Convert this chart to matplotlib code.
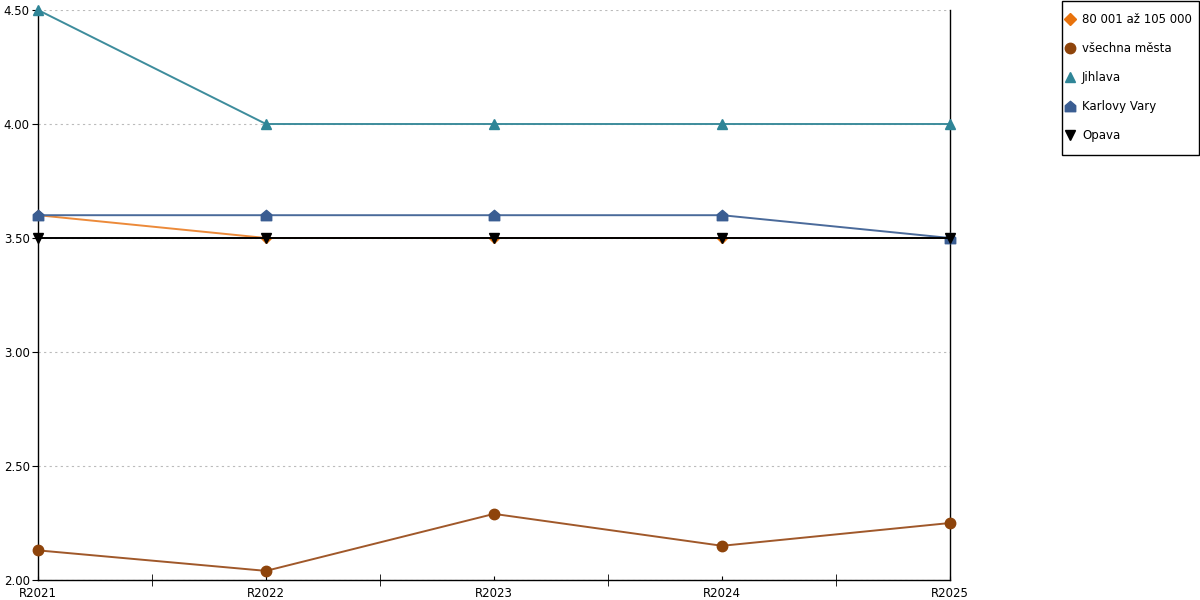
import matplotlib
matplotlib.use("Agg")
import matplotlib.pyplot as plt
from matplotlib.path import Path
from matplotlib.patches import Rectangle
from matplotlib.ticker import FixedLocator
import numpy as np

categories = ["R2021", "R2022", "R2023", "R2024", "R2025"]
series_names = ["80 001 až 105 000", "všechna města", "Jihlava", "Karlovy Vary", "Opava"]
vals_80001 = [3.60, 3.50, 3.50, 3.50, 3.50]
vals_all = [2.13, 2.04, 2.29, 2.15, 2.25]
vals_jihlava = [4.50, 4.00, 4.00, 4.00, 4.00]
vals_kv = [3.60, 3.60, 3.60, 3.60, 3.50]
vals_opava = [3.50, 3.50, 3.50, 3.50, 3.50]
yticks = [2.00, 2.50, 3.00, 3.50, 4.00, 4.50]

house = Path([(-1, -1), (1, -1), (1, 0.15), (0, 1), (-1, 0.15), (-1, -1)],
             [Path.MOVETO, Path.LINETO, Path.LINETO, Path.LINETO, Path.LINETO, Path.CLOSEPOLY])

colors = ["#E8720C", "#8E440B", "#2F8597", "#3A5D92", "#000000"]
line_colors = ["#EC8A3A", "#A0582A", "#3D8C9C", "#4A6A9A", "#000000"]
markers = ["D", "o", "^", house, "v"]
msizes = [5.5, 7.5, 7.5, 7.5, 7.5]
leg_msizes = [6.5, 7.5, 7.5, 7.5, 7.5]
data = [vals_80001, vals_all, vals_jihlava, vals_kv, vals_opava]

plt.rcParams['font.family'] = ['DejaVu Sans']
fig = plt.figure(figsize=(12, 6), dpi=100)
ax = fig.add_axes([38/1200, 20/600, 912/1200, 570/600])

x = np.arange(len(categories))
for name, vals, c, lc, m, ms in zip(series_names, data, colors, line_colors, markers, msizes):
    ax.plot(x, vals, color=lc, marker=m, markersize=ms, markerfacecolor=c,
            markeredgecolor=c, linewidth=1.4, label=name, clip_on=False, zorder=3)

ax.set_xlim(0, len(categories) - 1)
ax.set_ylim(2.0, 4.5)
ax.set_yticks(yticks)
ax.set_yticklabels([f"{v:.2f}" for v in yticks])
ax.set_xticks(x)
ax.set_xticklabels(categories)
ax.xaxis.set_minor_locator(FixedLocator(x[:-1] + 0.5))

ax.grid(axis='y', color='#BBBBBB', linestyle=(0, (2, 3)), linewidth=0.8)
ax.set_axisbelow(True)
ax.spines['top'].set_visible(False)
for s in ['left', 'right', 'bottom']:
    ax.spines[s].set_color('black')
    ax.spines[s].set_linewidth(1.0)

ax.tick_params(axis='x', which='major', length=3, direction='in', pad=5, labelsize=8.5)
ax.tick_params(axis='x', which='minor', length=8, direction='inout')
ax.tick_params(axis='y', which='major', length=4, direction='out', pad=2, labelsize=8.5)

leg = fig.legend(loc='upper left', bbox_to_anchor=(1065/1200, 1 - 13/600),
                 frameon=False, fontsize=8.5, labelspacing=1.35,
                 handlelength=0.8, handletextpad=0.65, borderpad=0, borderaxespad=0)
for h, ms in zip(leg.legend_handles, leg_msizes):
    h.set_linestyle('None')
    h.set_markersize(ms)

fig.patches.append(Rectangle((1062/1200, 1 - 155/600), 137/1200, 154/600,
                             transform=fig.transFigure, fill=False,
                             edgecolor='black', linewidth=1.0))

fig.savefig("out.png", dpi=100)
